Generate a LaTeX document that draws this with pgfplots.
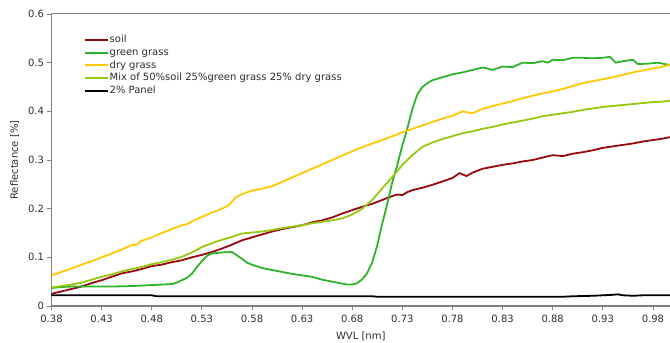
\documentclass[border=0pt]{standalone}
\usepackage{fontspec}
\setmainfont{DejaVu Sans}
\usepackage{pgfplots}
\usepackage{pgfplotstable}
\pgfplotsset{compat=1.18}
\definecolor{soilc}{RGB}{150,10,15}
\definecolor{greenc}{RGB}{45,180,40}
\definecolor{dryc}{RGB}{255,200,0}
\definecolor{mixc}{RGB}{150,200,15}
\definecolor{axc}{RGB}{128,128,128}
\definecolor{txtc}{RGB}{45,45,45}

\pgfplotstableread{
x y
0.38 0.025
0.39 0.030
0.40 0.035
0.41 0.040
0.42 0.047
0.43 0.053
0.44 0.060
0.45 0.067
0.46 0.071
0.47 0.076
0.48 0.082
0.49 0.085
0.50 0.090
0.51 0.094
0.52 0.100
0.53 0.105
0.54 0.111
0.55 0.118
0.56 0.126
0.57 0.135
0.58 0.141
0.59 0.147
0.60 0.153
0.61 0.158
0.62 0.162
0.63 0.166
0.64 0.172
0.65 0.176
0.66 0.182
0.67 0.190
0.68 0.197
0.69 0.204
0.70 0.210
0.71 0.218
0.72 0.226
0.725 0.229
0.73 0.228
0.735 0.234
0.74 0.238
0.75 0.243
0.76 0.249
0.77 0.256
0.78 0.263
0.787 0.273
0.794 0.267
0.80 0.274
0.81 0.282
0.82 0.286
0.83 0.290
0.84 0.293
0.85 0.297
0.86 0.300
0.87 0.305
0.88 0.310
0.89 0.308
0.90 0.313
0.91 0.316
0.92 0.320
0.93 0.325
0.94 0.328
0.95 0.331
0.96 0.334
0.97 0.338
0.98 0.341
0.99 0.344
0.997 0.347
}\soiltab

\pgfplotstableread{
x y
0.38 0.037
0.39 0.039
0.40 0.040
0.42 0.040
0.44 0.040
0.46 0.041
0.48 0.043
0.49 0.044
0.50 0.045
0.505 0.048
0.51 0.053
0.515 0.058
0.52 0.066
0.525 0.080
0.53 0.092
0.535 0.103
0.54 0.108
0.55 0.110
0.56 0.111
0.565 0.104
0.57 0.097
0.575 0.089
0.58 0.085
0.59 0.078
0.60 0.074
0.61 0.070
0.62 0.066
0.63 0.063
0.64 0.060
0.65 0.054
0.66 0.050
0.67 0.046
0.675 0.044
0.68 0.044
0.685 0.047
0.69 0.055
0.695 0.068
0.70 0.090
0.705 0.125
0.71 0.170
0.715 0.210
0.72 0.255
0.725 0.290
0.73 0.330
0.735 0.365
0.74 0.405
0.745 0.435
0.75 0.450
0.755 0.458
0.76 0.464
0.77 0.470
0.78 0.476
0.79 0.480
0.80 0.485
0.81 0.490
0.815 0.488
0.82 0.485
0.83 0.492
0.84 0.491
0.85 0.500
0.86 0.499
0.87 0.503
0.875 0.500
0.88 0.506
0.89 0.505
0.90 0.510
0.91 0.510
0.92 0.509
0.93 0.510
0.937 0.512
0.943 0.500
0.95 0.503
0.96 0.506
0.965 0.497
0.975 0.498
0.985 0.500
0.997 0.495
}\greentab

\pgfplotstableread{
x y
0.38 0.063
0.39 0.070
0.40 0.077
0.41 0.085
0.42 0.092
0.43 0.100
0.44 0.108
0.45 0.116
0.46 0.125
0.465 0.126
0.47 0.134
0.48 0.141
0.49 0.150
0.50 0.158
0.51 0.166
0.515 0.168
0.52 0.174
0.53 0.183
0.54 0.192
0.55 0.200
0.555 0.205
0.558 0.209
0.563 0.222
0.57 0.230
0.58 0.237
0.59 0.241
0.60 0.246
0.61 0.255
0.62 0.264
0.63 0.273
0.64 0.282
0.65 0.291
0.66 0.300
0.67 0.309
0.68 0.318
0.69 0.326
0.70 0.334
0.71 0.341
0.72 0.349
0.73 0.357
0.74 0.364
0.75 0.371
0.76 0.378
0.77 0.385
0.78 0.391
0.79 0.400
0.80 0.396
0.81 0.405
0.82 0.411
0.83 0.416
0.84 0.421
0.85 0.427
0.86 0.432
0.87 0.437
0.88 0.441
0.89 0.446
0.90 0.452
0.91 0.458
0.92 0.462
0.93 0.466
0.94 0.470
0.95 0.475
0.96 0.480
0.97 0.484
0.98 0.488
0.99 0.492
0.997 0.496
}\drytab

\pgfplotstableread{
x y
0.38 0.038
0.39 0.041
0.40 0.044
0.41 0.048
0.42 0.054
0.43 0.060
0.44 0.065
0.45 0.071
0.46 0.076
0.47 0.080
0.48 0.086
0.49 0.090
0.50 0.095
0.51 0.101
0.52 0.110
0.53 0.121
0.54 0.129
0.55 0.136
0.56 0.142
0.57 0.149
0.58 0.151
0.59 0.153
0.60 0.156
0.61 0.160
0.62 0.163
0.63 0.166
0.64 0.170
0.65 0.173
0.66 0.176
0.67 0.180
0.68 0.188
0.69 0.200
0.70 0.218
0.71 0.242
0.72 0.265
0.73 0.290
0.74 0.310
0.75 0.327
0.76 0.336
0.77 0.343
0.78 0.349
0.79 0.355
0.80 0.359
0.81 0.364
0.82 0.368
0.83 0.373
0.84 0.377
0.85 0.381
0.86 0.385
0.87 0.390
0.88 0.393
0.89 0.396
0.90 0.399
0.91 0.403
0.92 0.406
0.93 0.409
0.94 0.411
0.95 0.413
0.96 0.415
0.97 0.417
0.98 0.419
0.99 0.420
0.997 0.422
}\mixtab

\pgfplotstableread{
x y
0.38 0.022
0.48 0.022
0.485 0.020
0.70 0.020
0.705 0.019
0.89 0.019
0.90 0.020
0.92 0.021
0.94 0.023
0.945 0.024
0.95 0.022
0.96 0.021
0.97 0.022
0.997 0.022
}\paneltab

\begin{document}
\begin{tikzpicture}
\begin{axis}[
  scale only axis, width=618.5pt, height=292pt,
  xmin=0.38, xmax=0.997, ymin=0, ymax=0.6,
  axis x line*=bottom, axis y line*=left,
  axis line style={axc, line width=1.4pt},
  xtick={0.38,0.43,0.48,0.53,0.58,0.63,0.68,0.73,0.78,0.83,0.88,0.93,0.98},
  xticklabels={0.38,0.43,0.48,0.53,0.58,0.63,0.68,0.73,0.78,0.83,0.88,0.93,0.98},
  ytick={0,0.1,0.2,0.3,0.4,0.5,0.6},
  yticklabels={0,0.1,0.2,0.3,0.4,0.5,0.6},
  tick align=outside, major tick length=4pt,
  tick style={axc, line width=0.8pt},
  tick label style={font=\fontsize{10}{12}\selectfont, text=txtc},
  xticklabel style={yshift=-2pt},
  xlabel={WVL [nm]}, ylabel={Reflectance [\%]},
  label style={font=\fontsize{10}{12}\selectfont, text=txtc},
  xlabel style={yshift=-2pt},
  ylabel style={yshift=2pt},
  legend style={draw=none, fill=none, at={(0.0525,0.931)}, anchor=north west,
    inner sep=0pt, font=\fontsize{10}{12}\selectfont, text=txtc,
    row sep=1.4pt,
    nodes={inner sep=0.5pt, text height=8pt, text depth=2.3pt}},
  legend cell align=left,
  legend image code/.code={\draw[#1, line width=2pt] (0pt,0pt) -- (23pt,0pt);},
]
\addplot[soilc, line width=1.8pt, no markers] table {\soiltab};
\addlegendentry{soil}
\addplot[greenc, line width=1.8pt, no markers] table {\greentab};
\addlegendentry{green grass}
\addplot[dryc, line width=1.8pt, no markers] table {\drytab};
\addlegendentry{dry grass}
\addplot[mixc, line width=1.8pt, no markers] table {\mixtab};
\addlegendentry{Mix of 50\%soil 25\%green grass 25\% dry grass}
\addplot[black, line width=1.8pt, no markers] table {\paneltab};
\addlegendentry{2\% Panel}
\draw[axc, line width=1pt] (rel axis cs:0,1) -- (rel axis cs:1,1);
\end{axis}
\pgfresetboundingbox
\path[use as bounding box] (-51.5pt,-37pt) rectangle (618.5pt,306pt);
\end{tikzpicture}
\end{document}
